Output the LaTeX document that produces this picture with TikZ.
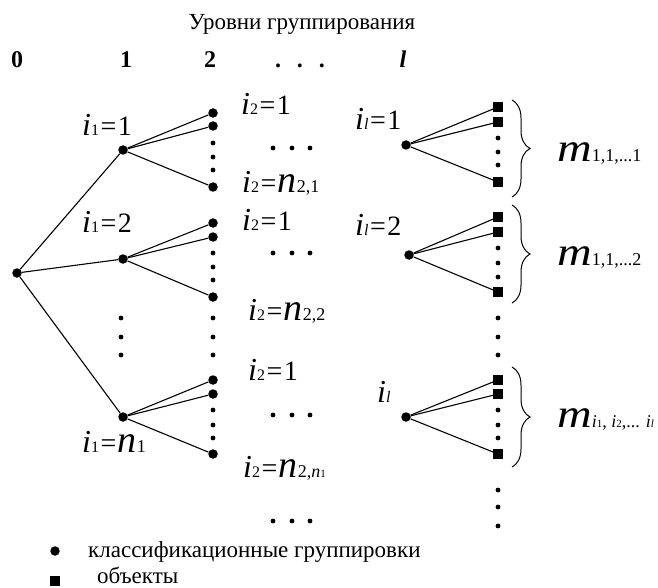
\documentclass[tikz,border=0pt]{standalone}
\usepackage{fontspec}
\setmainfont{Liberation Serif}
\usetikzlibrary{decorations.pathreplacing}
\newcommand{\Ii}{{\fontsize{32}{32}\selectfont\itshape i}}
\newcommand{\DigF}{\fontsize{28}{28}\selectfont}
\newcommand{\Eq}{\hspace{1.5pt}=\hspace{1.5pt}}
\newcommand{\SubI}[1]{{\fontsize{16}{16}\selectfont #1}}
\newcommand{\SubN}[1]{{\fontsize{18}{18}\selectfont #1}}
\newcommand{\SubM}[1]{{\fontsize{18}{18}\selectfont #1}}
\newcommand{\SubT}[1]{{\fontsize{11}{11}\selectfont #1}}
\newcommand{\BigN}{{\fontsize{38}{38}\selectfont\itshape n}}
\newcommand{\BigM}{\scalebox{1.2}[1]{\fontsize{40}{40}\selectfont\itshape m}}
\tikzset{
  gnode/.style={circle, fill=black, inner sep=0pt, minimum size=9.5pt},
  obj/.style={rectangle, fill=black, inner sep=0pt, minimum size=10pt},
  conn/.style={line width=1.1pt, black},
  lab/.style={inner sep=0pt, anchor=base west, font=\DigF},
  hdr/.style={inner sep=0pt, anchor=base, font=\fontsize{24}{24}\selectfont\bfseries},
  txt/.style={inner sep=0pt, anchor=base west, font=\fontsize{23}{23}\selectfont},
  brc/.style={decorate, decoration={brace, amplitude=18pt}, line width=1pt},
}
\begin{document}
\begin{tikzpicture}[x=1pt,y=-1pt]
\useasboundingbox (0,0) rectangle (658,588);
% header
\node[inner sep=0pt, anchor=base, font=\fontsize{23}{23}\selectfont] (title) at (302,30) {Уровни группирования};
\node[hdr] (h0) at (17,68) {0};
\node[hdr] (h1) at (126,68) {1};
\node[hdr] (h2) at (210,68) {2};
\node[hdr] (hd) at (300,68) {.\hspace{16pt}.\hspace{16pt}.};
\node[hdr] (hl) at (403,68) {\textit{l}};
% nodes
\node[gnode] (r) at (17,273) {};
\node[gnode] (a1) at (123,150) {};
\node[gnode] (a2) at (123,259) {};
\node[gnode] (a3) at (123,417) {};
\node[gnode] (b11) at (213,113) {};
\node[gnode] (b12) at (213,126) {};
\node[gnode] (b13) at (213,187) {};
\node[gnode] (b21) at (213,223) {};
\node[gnode] (b22) at (213,237) {};
\node[gnode] (b23) at (213,297) {};
\node[gnode] (b31) at (213,380) {};
\node[gnode] (b32) at (213,394) {};
\node[gnode] (b33) at (213,454) {};
\node[gnode] (c1) at (406,145) {};
\node[gnode] (c2) at (409,255) {};
\node[gnode] (c3) at (406,417) {};
\node[obj] (s11) at (498,107) {};
\node[obj] (s12) at (498,122) {};
\node[obj] (s13) at (498,182) {};
\node[obj] (s21) at (498,217) {};
\node[obj] (s22) at (498,232) {};
\node[obj] (s23) at (498,292) {};
\node[obj] (s31) at (498,380) {};
\node[obj] (s32) at (498,394) {};
\node[obj] (s33) at (498,454) {};
% connectors
\draw[conn] (r) -- (a1);
\draw[conn] (r) -- (a2);
\draw[conn] (r) -- (a3);
\foreach \g in {1,2,3} {
  \draw[conn] (a\g) -- (b\g1);
  \draw[conn] (a\g) -- (b\g2);
  \draw[conn] (a\g) -- (b\g3);
  \draw[conn] (c\g) -- (s\g1.center);
  \draw[conn] (c\g) -- (s\g2.center);
  \draw[conn] (c\g) -- (s\g3.center);
}
% dots
\foreach \y in {143,157,170,253,267,280,318,337,355,410,425,438}
  \fill (213,\y) circle (2.4pt);
\foreach \y in {318,337,355}
  \fill (121,\y) circle (2.4pt);
\foreach \y in {138,152,165,248,263,277,318,337,355,410,425,438,490,507,526}
  \fill (498,\y) circle (2.4pt);
\foreach \x in {273,292,310} {
  \fill (\x,148) circle (2.4pt);
  \fill (\x,253) circle (2.4pt);
  \fill (\x,415) circle (2.4pt);
  \fill (\x,521) circle (2.4pt);
}
% braces
\draw[brc] (512,100) -- (512,197);
\draw[brc] (512,205) -- (512,303);
\draw[brc] (512,367) -- (512,467);
% labels
\node[lab] (la1) at (82,136) {\Ii\SubI{1}\Eq 1};
\node[lab] (la2) at (82,232) {\Ii\SubI{1}\Eq 2};
\node[lab] (la3) at (82,452) {\Ii\SubI{1}\Eq\BigN\SubN{1}};
\node[lab] (lb11) at (241,115) {\Ii\SubI{2}\Eq 1};
\node[lab] (lb13) at (242,193) {\Ii\SubI{2}\Eq\BigN\SubN{2,1}};
\node[lab] (lb21) at (242,230) {\Ii\SubI{2}\Eq 1};
\node[lab] (lb23) at (248,320) {\Ii\SubI{2}\Eq\BigN\SubN{2,2}};
\node[lab] (lb31) at (248,380) {\Ii\SubI{2}\Eq 1};
\node[lab] (lb33) at (243,477) {\Ii\SubI{2}\Eq\BigN\SubN{2,\textit{n}\SubT{1}}};
\node[lab] (lc1) at (355,130) {\Ii\SubI{\textit{l}}\Eq 1};
\node[lab] (lc2) at (355,235) {\Ii\SubI{\textit{l}}\Eq 2};
\node[lab] (lc3) at (377,402) {\Ii\SubI{\textit{l}}};
\node[lab] (lm1) at (557,162) {\BigM\SubM{1,1,...1}};
\node[lab] (lm2) at (557,265) {\BigM\SubM{1,1,...2}};
\node[lab] (lm3) at (557,427) {\BigM\SubM{\textit{i}\SubT{1}, \textit{i}\SubT{2},... \textit{i}\SubT{\textit{l}}}};
% legend
\node[gnode] (lg1) at (55,551) {};
\node[obj] (lg2) at (55,581) {};
\node[txt] (lt1) at (88,557) {классификационные группировки};
\node[txt] (lt2) at (97,583) {объекты};
\end{tikzpicture}
\end{document}
